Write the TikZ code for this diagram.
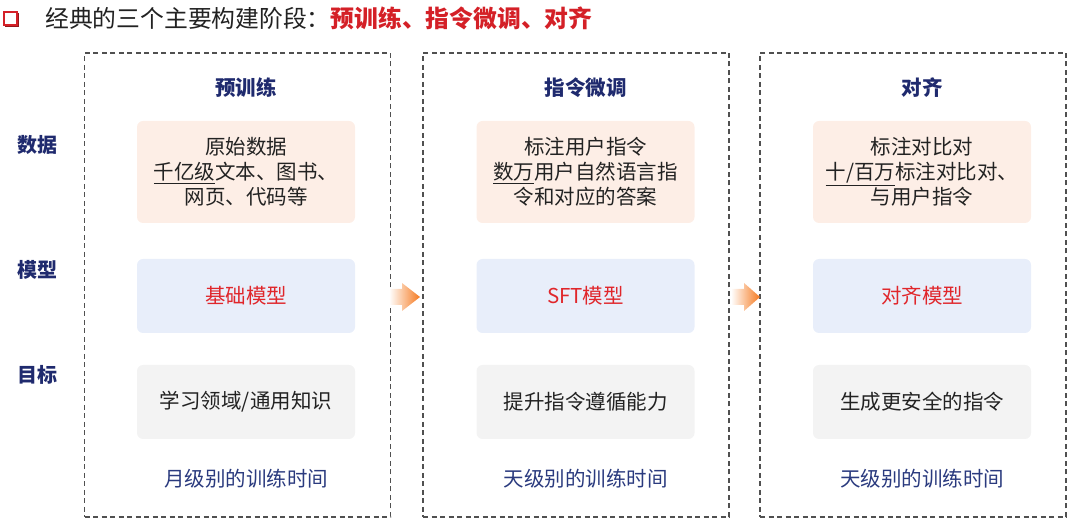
\documentclass[tikz,border=0pt]{standalone}
\usepackage{fontspec}
\setmainfont{Noto Sans CJK SC}
\usetikzlibrary{shapes.arrows}
\definecolor{navy}{HTML}{1F2A6E}
\definecolor{navytext}{HTML}{2A3A7E}
\definecolor{redtxt}{HTML}{E0262B}
\definecolor{titlered}{HTML}{D42027}
\definecolor{peach}{HTML}{FDEEE6}
\definecolor{lblue}{HTML}{E8EEFA}
\definecolor{lgray}{HTML}{F3F3F3}
\definecolor{dashgray}{HTML}{505050}
\definecolor{arroworange}{HTML}{F57A20}
\definecolor{bodytext}{HTML}{222222}
\begin{document}
\begin{tikzpicture}[x=1pt,y=-1pt,
  stagebox/.style={draw=dashgray, line width=1.3pt, dash pattern=on 5pt off 3.5pt, minimum width=306pt, minimum height=464pt, inner sep=0pt},
  inbox/.style={rounded corners=6pt, minimum width=218pt, inner sep=0pt, align=center, text=bodytext, font=\fontsize{20.5}{25}\selectfont},
  databox/.style={inbox, fill=peach, minimum height=102pt},
  modelbox/.style={inbox, fill=lblue, minimum height=74pt, text=redtxt},
  goalbox/.style={inbox, fill=lgray, minimum height=74pt},
  rowlabel/.style={font=\fontsize{20}{22}\selectfont\bfseries, text=navy},
  header/.style={font=\fontsize{20.5}{22}\selectfont\bfseries, text=navy},
  timetext/.style={font=\fontsize{20.5}{22}\selectfont, text=navytext},
  flowarrow/.style={left color=white, right color=arroworange}
]
\useasboundingbox (0,0) rectangle (1080,526);

% title
\draw[titlered!70!black, line width=1.6pt] (5.5,13.5) rectangle (18.5,26.5);
\draw[titlered, line width=1.6pt, fill=white] (4,12) rectangle (17,25);
\node[anchor=west, font=\fontsize{23.8}{26}\selectfont, text=bodytext, inner sep=0pt] (title) at (45,18)
  {经典的三个主要构建阶段：\textcolor{titlered}{\bfseries 预训练、指令微调、对齐}};

% row labels
\node[rowlabel] (lbldata) at (37,145) {数据};
\node[rowlabel] (lblmodel) at (37,270) {模型};
\node[rowlabel] (lblgoal) at (37,375) {目标};

% stage boxes
\node[stagebox] (s1) at (237.5,285) {};
\node[stagebox] (s2) at (576,285) {};
\node[stagebox] (s3) at (913,285) {};

% headers
\node[header] (h1) at (246,88) {预训练};
\node[header] (h2) at (585.5,88) {指令微调};
\node[header] (h3) at (922,88) {对齐};

% data boxes
\node[databox] (d1) at (246,172) {原始数据\\\underline{千亿级}文本、图书、\\网页、代码等};
\node[databox] (d2) at (585.5,172) {标注用户指令\\\underline{数万}用户自然语言指\\令和对应的答案};
\node[databox] (d3) at (922,172) {标注对比对\\\underline{十/百万}标注对比对、\\与用户指令};

% model boxes
\node[modelbox] (m1) at (246,296) {基础模型};
\node[modelbox] (m2) at (585.5,296) {SFT模型};
\node[modelbox] (m3) at (922,296) {对齐模型};

% goal boxes
\node[goalbox] (g1) at (246,402) {学习领域/通用知识};
\node[goalbox] (g2) at (585.5,402) {提升指令遵循能力};
\node[goalbox] (g3) at (922,402) {生成更安全的指令};

% time texts
\node[timetext] (t1) at (246,479) {月级别的训练时间};
\node[timetext] (t2) at (585.5,479) {天级别的训练时间};
\node[timetext] (t3) at (922,479) {天级别的训练时间};

% arrows between stages
\shade[flowarrow] (389,289) -- (402,289) -- (402,283) -- (420,297) -- (402,311) -- (402,305) -- (389,305) -- cycle;
\shade[flowarrow] (731,289) -- (744,289) -- (744,283) -- (760,297) -- (744,311) -- (744,305) -- (731,305) -- cycle;
\end{tikzpicture}
\end{document}
